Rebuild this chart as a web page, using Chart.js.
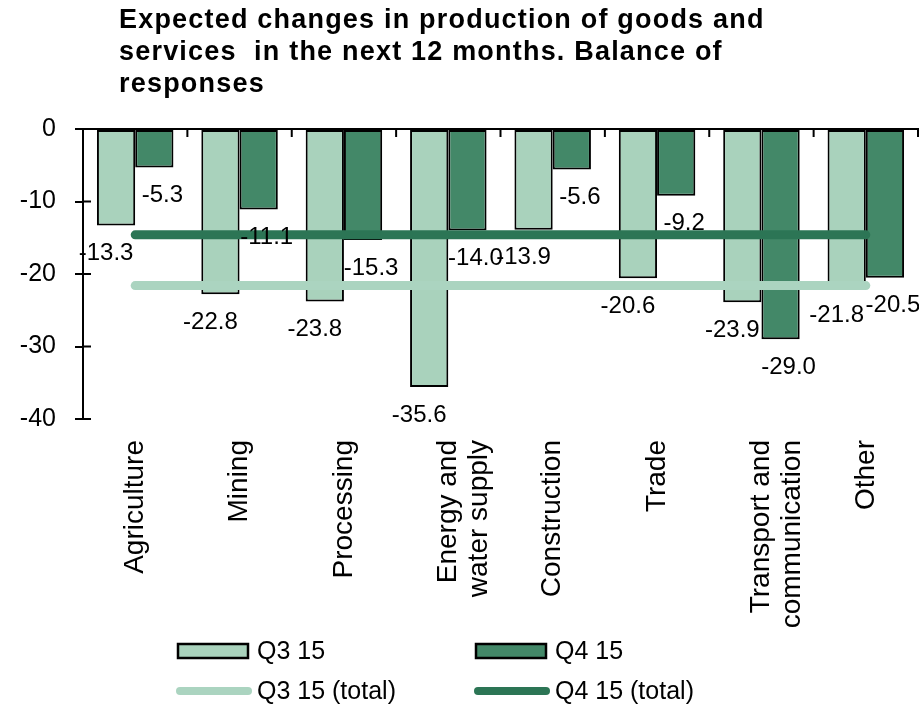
<!DOCTYPE html>
<html>
<head>
<meta charset="utf-8">
<script src="https://cdn.jsdelivr.net/npm/chart.js@4.4.1/dist/chart.umd.min.js"></script>
<style>
html,body{margin:0;padding:0;background:#fff;}
#wrap{width:919px;height:704px;position:relative;}
</style>
</head>
<body>
<div id="wrap"><canvas id="chart" width="919" height="704"></canvas></div>
<script>
const titleLines=["Expected changes in production of goods and","services  in the next 12 months. Balance of","responses"];
const categories=["Agriculture","Mining","Processing",["Energy and","water supply"],"Construction","Trade",["Transport and","communication"],"Other"];
const q3Values=[-13.3,-22.8,-23.8,-35.6,-13.9,-20.6,-23.9,-21.8];
const q4Values=[-5.3,-11.1,-15.3,-14.0,-5.6,-9.2,-29.0,-20.5];
const q3Total=[-21.6,-21.6,-21.6,-21.6,-21.6,-21.6,-21.6,-21.6];
const q4Total=[-14.6,-14.6,-14.6,-14.6,-14.6,-14.6,-14.6,-14.6];
const seriesNames=["Q3 15","Q4 15","Q3 15 (total)","Q4 15 (total)"];
const yMin=-40,yMax=0,yStep=10;

const FONT='"Liberation Sans", Arial, sans-serif';
const lightBar="#a9d2bc",darkBar="#438868",lightLine="#abd4c0",darkLine="#2c7555";

const titlePlugin={
id:"titleText",
afterDraw(chart){
let ctx=chart.ctx;
ctx.save();
ctx.font="bold 27px "+FONT;
ctx.fillStyle="#000";
ctx.textAlign="left";
ctx.textBaseline="alphabetic";
if("letterSpacing" in ctx) ctx.letterSpacing="1.2px";
titleLines.forEach((t,i)=>ctx.fillText(t,119,28+i*32));
ctx.restore();
}
};

const axisPlugin={
id:"zeroAxis",
afterDatasetsDraw(chart){
let ctx=chart.ctx,x=chart.scales.x,y=chart.scales.y,a=chart.chartArea;
let y0=y.getPixelForValue(0);
ctx.save();
ctx.strokeStyle="#000";
ctx.lineWidth=2;
ctx.beginPath();
ctx.moveTo(a.left,y0);ctx.lineTo(chart.width,y0);
for(let i=0;i<categories.length;i++){
let b=(x.getPixelForValue(i)+x.getPixelForValue(i+1))/2;
if(i==categories.length-1) b=a.right;
ctx.moveTo(b,y0);ctx.lineTo(b,y0+8);
}
for(let v=yMin;v<=yMax;v+=yStep){
let p=y.getPixelForValue(v);
ctx.moveTo(a.left,p);ctx.lineTo(a.left+8,p);
}
ctx.stroke();
ctx.restore();
}
};

const labelPlugin={
id:"valueLabels",
afterDraw(chart){
let ctx=chart.ctx;
ctx.save();
ctx.font="24px "+FONT;
ctx.fillStyle="#000";
ctx.textAlign="center";
ctx.textBaseline="middle";
[0,1].forEach(d=>{
let meta=chart.getDatasetMeta(d);
let dx=d==0?-10:8;
meta.data.forEach((el,i)=>{
ctx.fillText(chart.data.datasets[d].data[i].toFixed(1),el.x+dx,el.y+28);
});
});
ctx.restore();
}
};

const legendPlugin={
id:"gridLegend",
afterDraw(chart){
let ctx=chart.ctx;
let cols=[178,476],rows=[651,691];
ctx.save();
ctx.font="25px "+FONT;
ctx.textAlign="left";
ctx.textBaseline="middle";
chart.data.datasets.forEach((ds,i)=>{
let x=cols[i%2],y=rows[Math.floor(i/2)];
if(ds.type=="line"){
ctx.strokeStyle=ds.borderColor;
ctx.lineWidth=8;
ctx.lineCap="round";
ctx.beginPath();ctx.moveTo(x+2,y);ctx.lineTo(x+70,y);ctx.stroke();
}else{
ctx.fillStyle=ds.backgroundColor;
ctx.fillRect(x,y-7,70,14);
ctx.strokeStyle="#000";
ctx.lineWidth=2.5;
ctx.strokeRect(x,y-7,70,14);
}
ctx.fillStyle="#000";
ctx.fillText(ds.label,x+79,y+1);
});
ctx.restore();
}
};

function makeChart(){
new Chart(document.getElementById("chart"),{
type:"bar",
data:{
labels:categories,
datasets:[
{label:seriesNames[0],data:q3Values,backgroundColor:lightBar,borderColor:"#000",borderWidth:2,borderSkipped:false,order:1},
{label:seriesNames[1],data:q4Values,backgroundColor:darkBar,borderColor:"#000",borderWidth:2,borderSkipped:false,order:1},
{label:seriesNames[2],type:"line",data:q3Total,borderColor:lightLine,backgroundColor:lightLine,borderWidth:9,borderCapStyle:"round",pointRadius:0,order:0},
{label:seriesNames[3],type:"line",data:q4Total,borderColor:darkLine,backgroundColor:darkLine,borderWidth:9,borderCapStyle:"round",pointRadius:0,order:0}
]
},
options:{
responsive:false,
animation:false,
layout:{padding:{top:129,right:1,bottom:0,left:0}},
datasets:{bar:{categoryPercentage:0.733,barPercentage:1.0}},
plugins:{legend:{display:false},title:{display:false},tooltip:{enabled:false}},
scales:{
x:{
position:"bottom",
grid:{display:false,drawTicks:false},
border:{display:false},
ticks:{autoSkip:false,minRotation:90,maxRotation:90,padding:21,color:"#000",font:{family:FONT,size:28,lineHeight:1.1}},
afterFit(s){s.height=285;}
},
y:{
min:yMin,max:yMax,
grid:{drawOnChartArea:false,drawTicks:true,tickLength:8,color:"#000",lineWidth:2},
border:{display:true,color:"#000",width:2},
ticks:{stepSize:yStep,padding:19,color:"#000",font:{family:FONT,size:25}},
afterFit(s){s.width=83;}
}
}
},
plugins:[axisPlugin,labelPlugin,legendPlugin,titlePlugin]
});
}

makeChart();
</script>
</body>
</html>
